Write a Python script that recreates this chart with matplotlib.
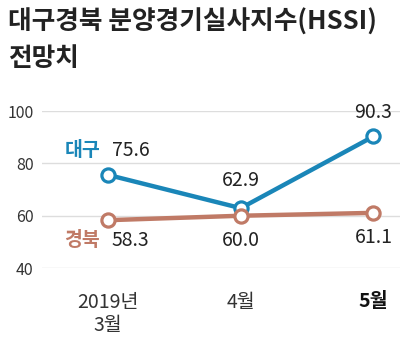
import matplotlib
matplotlib.use('Agg')
import matplotlib.pyplot as plt

plt.rcParams['font.family'] = ['Noto Sans CJK KR', 'DejaVu Sans']

months = ['2019년\n3월', '4월', '5월']
daegu = [75.6, 62.9, 90.3]
gyeongbuk = [58.3, 60.0, 61.1]
yticks = [40, 60, 80, 100]

blue = '#1a86b8'
brown = '#c07a66'

fig = plt.figure(figsize=(4.06, 3.45), dpi=100)
ax = fig.add_axes([0.103, 0.223, 0.882, 0.455])

x = range(len(months))
ax.plot(x, daegu, color=blue, lw=3.2, marker='o', ms=9.5, mfc='white',
        mec=blue, mew=2.3, clip_on=False, zorder=3)
ax.plot(x, gyeongbuk, color=brown, lw=3.2, marker='o', ms=9.5, mfc='white',
        mec=brown, mew=2.3, clip_on=False, zorder=3)

ax.set_xlim(-0.5, 2.2)
ax.set_ylim(40, 100)
ax.set_yticks(yticks)
ax.set_yticklabels([str(v) for v in yticks], fontsize=11.5, color='#333333')
ax.set_xticks(list(x))
ax.set_xticklabels(months, fontsize=14, color='#333333', linespacing=1.15)
ax.get_xticklabels()[-1].set_fontweight('bold')
ax.get_xticklabels()[-1].set_color('#111111')
ax.tick_params(axis='x', length=0, pad=17)
ax.tick_params(axis='y', length=0, pad=6)
ax.grid(axis='y', color='#dddddd', lw=1)
for s in ax.spines.values():
    s.set_visible(False)

# value labels
lab = dict(fontsize=14, color='#222222', ha='center', va='center')
ax.text(0.17, daegu[0] + 9.5, '75.6', **lab)
ax.text(1, daegu[1] + 10.7, '62.9', **lab)
ax.text(2.0, daegu[2] + 9, '90.3', **lab)
ax.text(0.17, gyeongbuk[0] - 7.6, '58.3', **lab)
ax.text(1, gyeongbuk[1] - 9.3, '60.0', **lab)
ax.text(2.0, gyeongbuk[2] - 9.3, '61.1', **lab)
ax.text(-0.06, daegu[0] + 9.5, '대구', fontsize=14, color=blue,
        fontweight='bold', ha='right', va='center')
ax.text(-0.06, gyeongbuk[0] - 7.6, '경북', fontsize=14, color=brown,
        fontweight='bold', ha='right', va='center')

fig.text(0.02, 0.975, '대구경북 분양경기실사지수(HSSI)\n전망치', fontsize=18.5,
         fontweight='bold', color='#222222', va='top', ha='left',
         linespacing=1.45)

fig.savefig('out.png', dpi=100)
